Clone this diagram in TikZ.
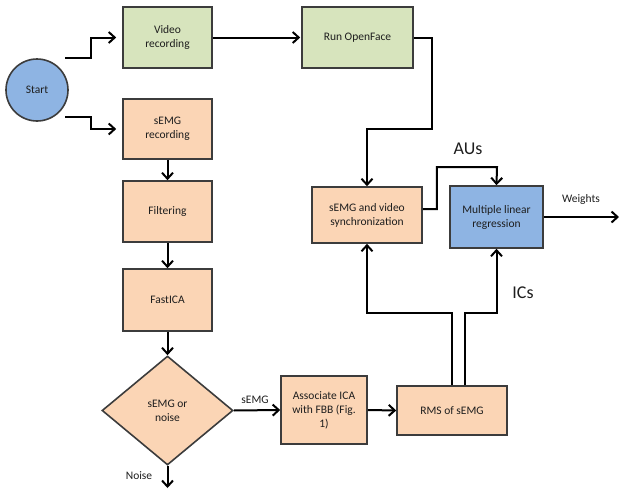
\documentclass[tikz,border=0pt]{standalone}
\usepackage{fontspec}
\setmainfont{Carlito}
\usetikzlibrary{shapes.geometric,arrows.meta,calc}
\definecolor{gfill}{HTML}{D7E4BD}
\definecolor{ofill}{HTML}{FBD5B5}
\definecolor{bfill}{HTML}{8EB4E3}
\definecolor{edge}{HTML}{3C3C3C}
\definecolor{txt}{HTML}{1E1E1E}
\begin{document}
\begin{tikzpicture}[x=1pt,y=-1pt,
  box/.style={draw=edge,line width=1.6pt,rectangle,align=center,text=txt,inner sep=1pt,
    font=\fontsize{11.5}{14}\selectfont},
  gbox/.style={box,fill=gfill},
  obox/.style={box,fill=ofill},
  bbox/.style={box,fill=bfill},
  arr/.style={line width=2pt,black,-{Straight Barb[length=6pt,width=11pt]}},
  lbl/.style={text=txt,font=\fontsize{11.5}{13}\selectfont,inner sep=0pt},
  biglbl/.style={text=txt,font=\fontsize{18}{20}\selectfont,inner sep=0pt}]
\useasboundingbox (0,0) rectangle (625,493);
\node[circle,draw=edge,line width=1.6pt,fill=bfill,minimum size=62pt,inner sep=0pt,text=txt,font=\fontsize{11.5}{13}\selectfont] (start) at (37,90) {Start};
\node[gbox,minimum width=89pt,minimum height=61pt] (video) at (167.5,37.5) {Video\\recording};
\node[gbox,minimum width=111pt,minimum height=61pt] (of) at (357.5,37.5) {Run OpenFace};
\node[obox,minimum width=89pt,minimum height=60pt] (semg) at (167.5,129) {sEMG\\recording};
\node[obox,minimum width=89pt,minimum height=61pt] (filt) at (167.5,211.5) {Filtering};
\node[obox,minimum width=89pt,minimum height=62pt] (ica) at (167.5,300) {FastICA};
\node[diamond,draw=edge,line width=1.6pt,fill=ofill,minimum width=131pt,minimum height=109pt,inner sep=0pt,align=center,text=txt,font=\fontsize{11.5}{14}\selectfont] (dia) at (167.5,410.5) {sEMG or\\noise};
\node[obox,minimum width=86pt,minimum height=68pt] (assoc) at (324,410) {Associate ICA\\with FBB (Fig.\\1)};
\node[obox,minimum width=110pt,minimum height=49pt] (rms) at (452,410.5) {RMS of sEMG};
\node[obox,minimum width=110pt,minimum height=56pt] (sync) at (367,215) {sEMG and video\\synchronization};
\node[bbox,minimum width=93pt,minimum height=62pt] (mlr) at (496.5,217) {Multiple linear\\regression};
\coordinate (wend) at (619,217);
\coordinate (au) at (497,167);
\coordinate (noiseend) at (167.5,488);
% connectors
\draw[arr,shorten >=6pt] ([xshift=28pt]start.north) -- ++(26,0) |- (video.west);
\draw[arr,shorten >=6pt] ([xshift=28pt,yshift=5pt]start.south) -- ++(26,0) |- (semg.west);
\draw[arr,shorten >=1pt] (video.east) -- (of.west);
\draw[arr] (of.east) -- ++(18,0) -- ++(0,91) -| (sync.north);
\draw[arr] ([yshift=6pt]sync.east) -- ++(14,0) |- (au) -- (mlr.north);
\draw[arr] (mlr.east) -- (wend);
\draw[arr] (semg.south) -- (filt.north);
\draw[arr] (filt.south) -- (ica.north);
\draw[arr] (ica.south) -- (dia.north);
\draw[arr] (dia.east) -- (assoc.west);
\draw[arr] (dia.south) -- (noiseend);
\draw[arr] (assoc.east) -- (rms.west);
\draw[arr] (rms.north) -- ++(0,-72) -| (sync.south);
\draw[arr] ([xshift=13pt]rms.north) -- ++(0,-72) -| (mlr.south);
% labels
\node[biglbl] (aus) at (468,149) {AUs};
\node[biglbl] (ics) at (523,293) {ICs};
\node[lbl] (semglbl) at (255,400) {sEMG};
\node[lbl] (noiselbl) at (139,476) {Noise};
\node[lbl] (wlbl) at (581,199) {Weights};
\end{tikzpicture}
\end{document}
